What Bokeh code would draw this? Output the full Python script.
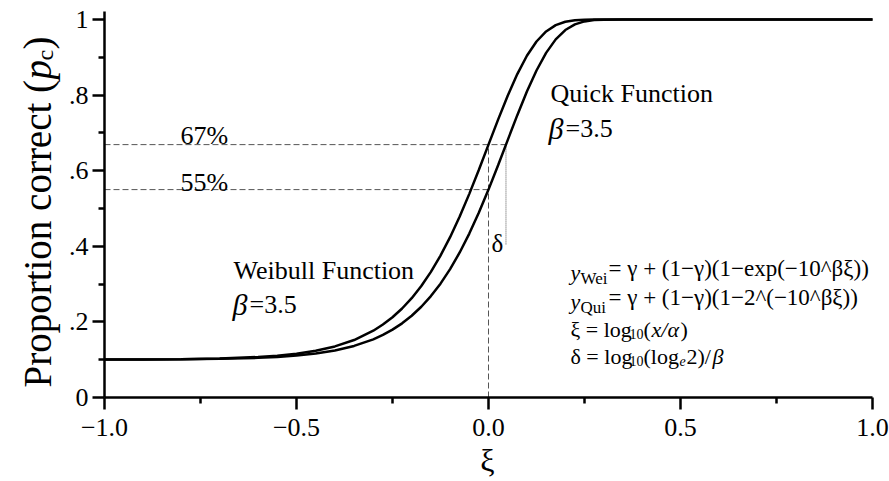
import math
from bokeh.plotting import figure
from bokeh.models import Range1d, FixedTicker, Label, CustomJSTickFormatter
from bokeh.embed import file_html
from bokeh.resources import INLINE

# ---------------- data ----------------
xi = [-1.0, -0.9, -0.8, -0.7, -0.6, -0.55, -0.5, -0.45, -0.4, -0.35, -0.3,
      -0.275, -0.25, -0.225, -0.2, -0.175, -0.15, -0.125, -0.1, -0.075, -0.05,
      -0.025, 0.0, 0.025, 0.05, 0.075, 0.1, 0.125, 0.15, 0.175, 0.2, 0.225,
      0.25, 0.275, 0.3, 0.35, 0.5, 0.75, 1.0]
weibull = [0.1003, 0.1006, 0.1014, 0.1032, 0.1071, 0.1106, 0.1159, 0.1236, 0.1351,
           0.1520, 0.1767, 0.1930, 0.2124, 0.2355, 0.2628, 0.2949, 0.3323, 0.3754,
           0.4242, 0.4789, 0.5387, 0.6027, 0.6689, 0.7351, 0.7984, 0.8556, 0.9041,
           0.9418, 0.9684, 0.9850, 0.9940, 0.9980, 0.9995, 0.9999, 1.0, 1.0, 1.0,
           1.0, 1.0]
quick = [0.1002, 0.1004, 0.1010, 0.1022, 0.1049, 0.1074, 0.1110, 0.1164, 0.1245,
         0.1364, 0.1539, 0.1655, 0.1795, 0.1962, 0.2163, 0.2401, 0.2683, 0.3012,
         0.3397, 0.3837, 0.4336, 0.4894, 0.5500, 0.6144, 0.6810, 0.7469, 0.8093,
         0.8651, 0.9117, 0.9474, 0.9721, 0.9871, 0.9950, 0.9984, 0.9996, 1.0, 1.0,
         1.0, 1.0]

p_wei_at_0 = 0.669      # 67 %
p_qui_at_0 = 0.55       # 55 %
delta_shift = 0.0455    # delta
delta_bottom = 0.405

x_tick_values = [-1.0, -0.5, 0.0, 0.5, 1.0]
x_tick_labels = ["\u22121.0", "\u22120.5", "0.0", "0.5", "1.0"]
x_minor_ticks = [-0.75, -0.25, 0.25, 0.75]
y_tick_values = [0.0, 0.2, 0.4, 0.6, 0.8, 1.0]
y_tick_labels = ["0", ".2", ".4", ".6", ".8", "1"]
y_minor_ticks = [0.1, 0.3, 0.5, 0.7, 0.9]

# ---------------- layout ----------------
FONT = "Liberation Serif"
W, H = 889, 481
PX_X0, PX_PER_X = 104.0, 384.0     # page px of x=-1, px per x unit
PY_Y0, PX_PER_Y = 397.0, 378.0     # page px of y=0, px per y unit

def pos(px, py):
    return (-1.0 + (px - PX_X0) / PX_PER_X, (PY_Y0 - py) / PX_PER_Y)

x0, y1 = pos(0, 0)
x1, y0 = pos(W, H)

p = figure(width=W, height=H, x_range=Range1d(x0, x1), y_range=Range1d(y0, y1),
           output_backend="svg", toolbar_location=None,
           min_border_left=0, min_border_right=0, min_border_top=0, min_border_bottom=0)
p.outline_line_color = None
p.xgrid.visible = False
p.ygrid.visible = False
p.background_fill_color = "white"
p.border_fill_color = "white"

for ax in (p.xaxis[0], p.yaxis[0]):
    ax.axis_line_width = 2.5
    ax.axis_line_color = "black"
    ax.major_tick_line_width = 2.5
    ax.minor_tick_line_width = 2.5
    ax.major_tick_line_color = "black"
    ax.minor_tick_line_color = "black"
    ax.major_tick_in = 0
    ax.minor_tick_in = 0
    ax.major_tick_out = 12
    ax.minor_tick_out = 6
    ax.major_label_text_font = FONT
    ax.major_label_text_font_size = "26px"
    ax.major_label_text_color = "black"

p.xaxis.fixed_location = y_tick_values[0]
p.yaxis.fixed_location = x_tick_values[0]
p.xaxis.bounds = (x_tick_values[0], x_tick_values[-1])
p.yaxis.bounds = (y_tick_values[0], 1.021)

p.xaxis.ticker = FixedTicker(ticks=x_tick_values, minor_ticks=x_minor_ticks)
p.yaxis.ticker = FixedTicker(ticks=y_tick_values, minor_ticks=y_minor_ticks)
fmt_code = """
let best = 0, bd = 1e9;
for (let i = 0; i < vals.length; i++) { const d = Math.abs(vals[i] - tick); if (d < bd) { bd = d; best = i; } }
return labs[best];
"""
p.xaxis.formatter = CustomJSTickFormatter(args=dict(vals=x_tick_values, labs=x_tick_labels), code=fmt_code)
p.yaxis.formatter = CustomJSTickFormatter(args=dict(vals=y_tick_values, labs=y_tick_labels), code=fmt_code)
p.xaxis.major_label_standoff = 9
p.yaxis.major_label_standoff = 4

# reference lines
x_left = x_tick_values[0]
p.line([x_left, delta_shift], [p_wei_at_0, p_wei_at_0], line_color="#555555", line_width=1, line_dash="6 3")
p.line([x_left, 0.0], [p_qui_at_0, p_qui_at_0], line_color="#555555", line_width=1, line_dash="6 3")
p.line([0.0, 0.0], [0.0, p_wei_at_0], line_color="#555555", line_width=1, line_dash="6 3")
p.line([delta_shift, delta_shift], [delta_bottom, p_wei_at_0], line_color="#555555", line_width=1, line_dash="1 1")

# curves
p.line(xi, weibull, line_color="black", line_width=2.5)
p.line(xi, quick, line_color="black", line_width=2.5)

def lab(px, py, text, size, style="normal", angle=0.0, align="left"):
    x, y = pos(px, py)
    p.add_layout(Label(x=x, y=y, text=text, text_font=FONT, text_font_size=f"{size}px",
                       text_font_style=style, text_color="black", angle=angle,
                       text_align=align, text_baseline="alphabetic"))

# annotations
lab(180, 135, "67%", 26)
lab(180, 182, "55%", 26)
lab(550, 93, "Quick Function", 26)
lab(548, 128, "\u03b2", 30, "italic")
lab(565, 128, "=3.5", 26)
lab(233, 270, "Weibull Function", 26)
lab(232, 304, "\u03b2", 30, "italic")
lab(249, 304, "=3.5", 26)
lab(491, 243, "\u03b4", 25)

# formulas
lab(570, 272, "y", 22, "italic")
lab(580, 278, "Wei", 17)
lab(608, 268, "= \u03b3 + (1\u2212\u03b3)(1\u2212exp(\u221210^\u03b2\u03be))", 23)
lab(570, 301, "y", 22, "italic")
lab(580, 307, "Qui", 17)
lab(608, 297, "= \u03b3 + (1\u2212\u03b3)(1\u22122^(\u221210^\u03b2\u03be))", 23)
lab(570, 329, "\u03be = log", 22)
lab(629, 333, "10", 14)
lab(643, 329, "(", 22)
lab(651, 329, "x/\u03b1", 22, "italic")
lab(680, 329, ")", 22)
lab(570, 356, "\u03b4 = log", 22)
lab(629, 360, "10", 14)
lab(643, 356, "(log", 22)
lab(679, 360, "e", 14, "italic")
lab(686, 356, "2)/", 22)
lab(712, 356, "\u03b2", 22, "italic")

# axis titles
R = math.pi / 2
lab(37, 387, "Proportion correct (", 39, angle=R)
lab(37, 79, "p", 39, "italic", angle=R)
lab(44, 60, "c", 24, angle=R)
lab(37, 49, ")", 39, angle=R)
lab(487, 459, "\u03be", 32, align="center")

open("out.html", "w").write(file_html(p, INLINE))
